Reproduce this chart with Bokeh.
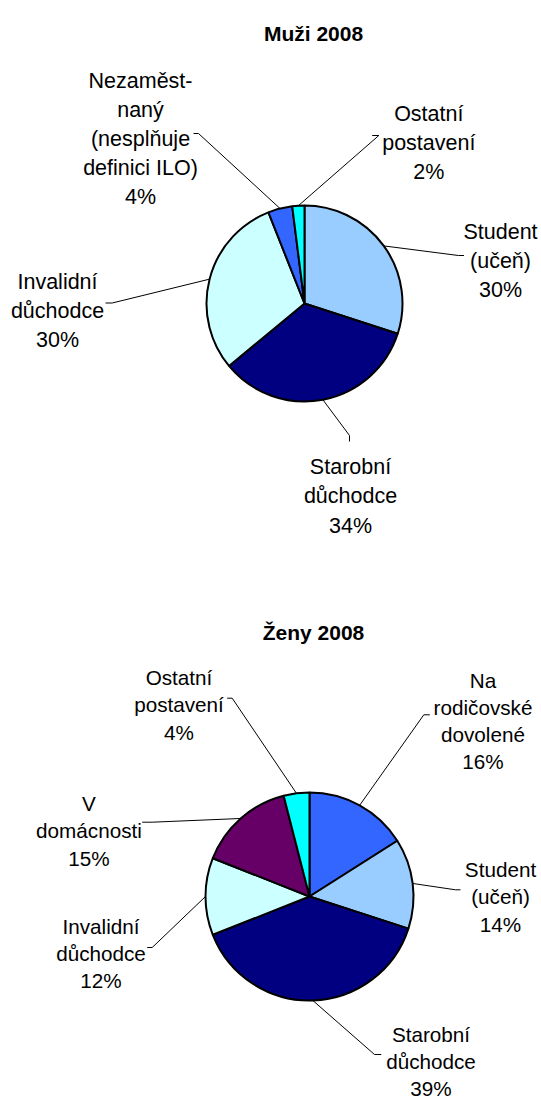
import math
from bokeh.plotting import figure
from bokeh.models import Range1d, ColumnDataSource
from bokeh.core.properties import value
from bokeh.embed import file_html
from bokeh.resources import INLINE

# ---------------- data ----------------
men_title = "Muži 2008"
men_categories = ["Student\n(učeň)", "Starobní\ndůchodce", "Invalidní\ndůchodce",
                  "Nezaměst-\nnaný\n(nesplňuje\ndefinici ILO)", "Ostatní\npostavení"]
men_values = [30, 34, 30, 4, 2]

women_title = "Ženy 2008"
women_categories = ["Na\nrodičovské\ndovolené", "Student\n(učeň)", "Starobní\ndůchodce",
                    "Invalidní\ndůchodce", "V\ndomácnosti", "Ostatní\npostavení"]
women_values = [16, 14, 39, 12, 15, 4]

# ---------------- styles / layout (reference pixel coords, y down) ----------------
men_colors = ["#99CCFF", "#000080", "#CCFFFF", "#3366FF", "#00FFFF"]
women_colors = ["#3366FF", "#99CCFF", "#000080", "#CCFFFF", "#660066", "#00FFFF"]

men_layout = dict(
    cx=304, cy=303, r=98, title_x=313, title_y=33, font=21.5, lh=29.2,
    labels=[(500, 231.5), (350, 466.7), (57, 281), (140, 80), (428.3, 113.3)],
    ticks=[((458, 255), (463.5, 255)), ((349, 435), (349, 441)),
           ((111.7, 302.5), (105, 302.5)), ((198, 133), (193, 133)),
           ((378.3, 135), (371.7, 135))],
)
women_layout = dict(
    cx=309, cy=896, r=104, title_x=313, title_y=631.7, font=20.7, lh=27.1,
    labels=[(482.5, 680), (500, 869.3), (430.5, 1034), (100.5, 925.7), (88.5, 803.3), (178.5, 677.3)],
    ticks=[((423.3, 714.3), (429.3, 714.3)), ((455, 889.3), (460, 889.3)),
           ((374, 1054), (380.7, 1054)), ((151.7, 947), (146.7, 947)),
           ((151.7, 821.7), (141.7, 821.7)), ((231.7, 697.7), (226.7, 697.7))],
)

FONT = value("Liberation Sans")

p = figure(width=541, height=1100, x_range=Range1d(0, 541), y_range=Range1d(-1100, 0),
           x_axis_type=None, y_axis_type=None, toolbar_location=None,
           output_backend="svg", min_border=0)
p.grid.visible = False
p.outline_line_color = None
p.background_fill_color = "white"
p.border_fill_color = "white"


def draw_pie(title, cats, vals, colors, L):
    total = float(sum(vals))
    cx, cy, r = L["cx"], L["cy"], L["r"]
    starts, ends, mids = [], [], []
    acc = 0.0
    for v in vals:
        a1 = acc / total * 2 * math.pi
        acc += v
        a2 = acc / total * 2 * math.pi
        starts.append(math.pi / 2 - a2)
        ends.append(math.pi / 2 - a1)
        mids.append((a1 + a2) / 2)
    src = ColumnDataSource(dict(x=[cx] * len(vals), y=[-cy] * len(vals),
                                start=starts, end=ends, color=colors))
    p.wedge(x="x", y="y", radius=r, start_angle="start", end_angle="end",
            direction="anticlock", fill_color="color", line_color="black",
            line_width=2, source=src)

    # leader lines
    xs, ys = [], []
    for m, (elbow, tick) in zip(mids, L["ticks"]):
        ex = cx + r * math.sin(m)
        ey = cy - r * math.cos(m)
        xs.append([ex, elbow[0], tick[0]])
        ys.append([-ey, -elbow[1], -tick[1]])
    p.multi_line(xs=xs, ys=ys, line_color="black", line_width=1)

    # labels
    tx, ty, tt = [], [], []
    for cat, v, (lx, ly) in zip(cats, vals, L["labels"]):
        lines = cat.split("\n") + [f"{v}%"]
        for i, ln in enumerate(lines):
            tx.append(lx)
            ty.append(-(ly + i * L["lh"]))
            tt.append(ln)
    p.text(x=tx, y=ty, text=tt, text_font=FONT, text_font_size=f"{L['font']}px",
           text_align="center", text_baseline="alphabetic", text_color="black")

    p.text(x=[L["title_x"]], y=[-L["title_y"]], text=[title], text_font=FONT,
           text_font_size="21px", text_font_style="bold", text_align="center",
           text_baseline="alphabetic", text_color="black")


draw_pie(men_title, men_categories, men_values, men_colors, men_layout)
draw_pie(women_title, women_categories, women_values, women_colors, women_layout)

open("out.html", "w").write(file_html(p, INLINE))
